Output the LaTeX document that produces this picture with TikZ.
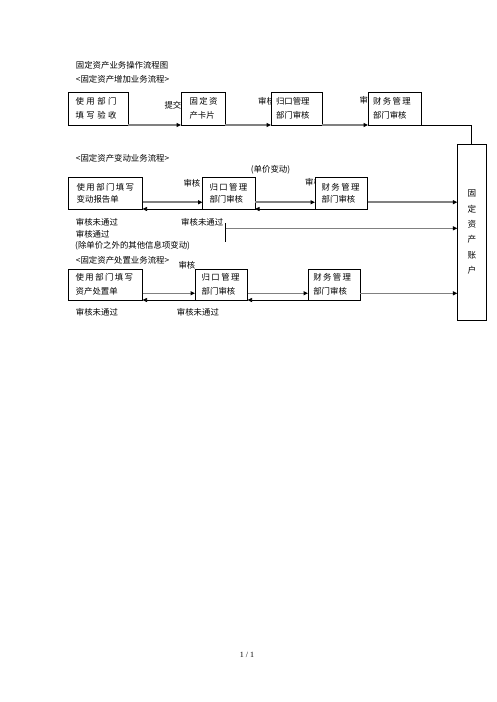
\documentclass[tikz,border=0pt]{standalone}
\usepackage{fontspec}
\setmainfont{Liberation Serif}
\newfontfamily\cjk{Noto Sans CJK SC}
\usetikzlibrary{arrows.meta,calc}
\newcommand{\ga}{\kern2.4pt}
\newcommand{\gb}{\kern1.4pt}
\begin{document}
\begin{tikzpicture}[x=1pt,y=-1pt,
  box/.style={draw=black,line width=0.9pt,fill=white,anchor=north west,outer sep=0pt,inner ysep=0pt,align=left,font=\cjk\fontsize{8.4}{#1}\selectfont},
  box/.default=14,
  lbl/.style={anchor=west,inner sep=0pt,font=\cjk\fontsize{8.4}{10}\selectfont},
  fwd/.style={draw=black!50,line width=1.5pt,-{Triangle[length=4.5pt,width=4pt,color=black]}},
  back/.style={draw=black,line width=0.7pt,-{Triangle[length=4.5pt,width=4pt,color=black]}},
  thinln/.style={draw=black,line width=0.7pt}]
\useasboundingbox (0,0) rectangle (496,702);

% headings and notes
\node[lbl] (t0) at (75.7,65) {固定资产业务操作流程图};
\node[lbl] (t1) at (75.7,79) {<固定资产增加业务流程>};
\node[lbl] (t2) at (75.7,158) {<固定资产变动业务流程>};
\node[lbl] (t3) at (250.7,170) {(单价变动)};
\node[lbl] (t4) at (75.7,222.3) {审核未通过};
\node[lbl] (t5) at (181,222.3) {审核未通过};
\node[lbl] (t6) at (75.7,234.3) {审核通过};
\node[lbl] (t7) at (75,245.7) {(除单价之外的其他信息项变动)};
\node[lbl] (t8) at (75.7,260.7) {<固定资产处置业务流程>};
\node[lbl] (t9) at (75.7,312.7) {审核未通过};
\node[lbl] (t10) at (176.7,312.7) {审核未通过};

% connector labels (partly covered by boxes)
\node[lbl] (l1) at (164.3,105.7) {提交};
\node[lbl] (l2) at (258,101.7) {审核};
\node[lbl] (l3) at (359.3,100.7) {审核};
\node[lbl] (l4) at (183.3,183) {审核};
\node[lbl] (l5) at (305,182.5) {审核};
\node[lbl] (l6) at (178.3,265) {审核};

% row 1
\node[box, minimum width=60pt, minimum height=32.5pt, inner xsep=7.7pt, text width=44.6pt] (A) at (68,92.5)
  {使\ga 用\ga 部\ga 门\\填\ga 写\ga 验\ga 收};
\node[box, minimum width=44pt, minimum height=32.5pt, inner xsep=8.5pt, text width=27pt] (B) at (181,92.5)
  {固\gb 定\gb 资\\产卡片};
\node[box, minimum width=51pt, minimum height=32.5pt, inner xsep=5pt, text width=41pt] (C) at (271,92.5)
  {归口管理\\部门审核};
\node[box, minimum width=53pt, minimum height=32.5pt, inner xsep=5pt, text width=43pt] (D) at (368,92.5)
  {财\gb 务\gb 管\gb 理\\部门审核};

% account box
\node[draw=black,line width=0.9pt,fill=white,anchor=north west,outer sep=0pt,inner sep=0pt,
      minimum width=29pt, minimum height=176.5pt, align=center,
      font=\cjk\fontsize{8.6}{15.4}\selectfont] (K) at (457.3,144)
  {固\\定\\资\\产\\账\\户};

% row 2
\node[box=12, minimum width=74.5pt, minimum height=31.7pt, inner xsep=8.7pt, text width=57.1pt] (E) at (68,177.3)
  {使\gb 用\gb 部\gb 门\gb 填\gb 写\\变动报告单};
\node[box=12, minimum width=52.5pt, minimum height=31.7pt, inner xsep=7pt, text width=38.5pt] (F) at (202.5,177.3)
  {归\gb 口\gb 管\gb 理\\部门审核};
\node[box=12, minimum width=52.5pt, minimum height=31.7pt, inner xsep=6.7pt, text width=39.1pt] (G) at (315,177.3)
  {财\gb 务\gb 管\gb 理\\部门审核};

% row 3
\node[box, minimum width=74.5pt, minimum height=31pt, inner xsep=7.7pt, text width=59.1pt] (H) at (68,269)
  {使\gb 用\gb 部\gb 门\gb 填\gb 写\\资产处置单};
\node[box, minimum width=52.5pt, minimum height=31pt, inner xsep=6.7pt, text width=39.1pt] (I) at (195,269)
  {归\gb 口\gb 管\gb 理\\部门审核};
\node[box, minimum width=52pt, minimum height=31pt, inner xsep=5.3pt, text width=41.4pt] (J) at (308,269)
  {财\gb 务\gb 管\gb 理\\部门审核};

% row 1 connectors
\draw[fwd] (A.south east) -- (B.south west);
\draw[fwd] (B.south east) -- (C.south west);
\draw[fwd] (C.south east) -- (D.south west);
\draw[thinln] (D.south east) -| (K.north);

% row 2 connectors
\draw[fwd] ([yshift=6.8pt]E.south east) -- ([yshift=6.8pt]F.south west);
\draw[back] (F.south west) -- (E.south east);
\draw[fwd] ([yshift=6.8pt]F.south east) -- ([yshift=6.8pt]G.south west);
\draw[back] (G.south west) -- (F.south east);
\coordinate (g1) at ([yshift=6.8pt]G.south east);
\draw[fwd] (g1) -- (g1 -| K.west);
\coordinate (v1) at (225.7,223);
\coordinate (v2) at (225.7,241.7);
\coordinate (v3) at (225.7,228.3);
\draw[thinln] (v1) -- (v2);
\draw[fwd] (v3) -- (v3 -| K.west);

% row 3 connectors
\draw[fwd] ([yshift=6.7pt]H.south east) -- ([yshift=6.7pt]I.south west);
\draw[back] (I.south west) -- (H.south east);
\draw[fwd] ([yshift=6.7pt]I.south east) -- ([yshift=6.7pt]J.south west);
\draw[back] (J.south west) -- (I.south east);
\coordinate (j1) at ([yshift=6.7pt]J.south east);
\draw[fwd] (j1) -- (j1 -| K.west);

% page footer
\node[inner sep=0pt,font=\fontsize{8}{10}\selectfont] (pg) at (247,655) {1 / 1};
\end{tikzpicture}
\end{document}
